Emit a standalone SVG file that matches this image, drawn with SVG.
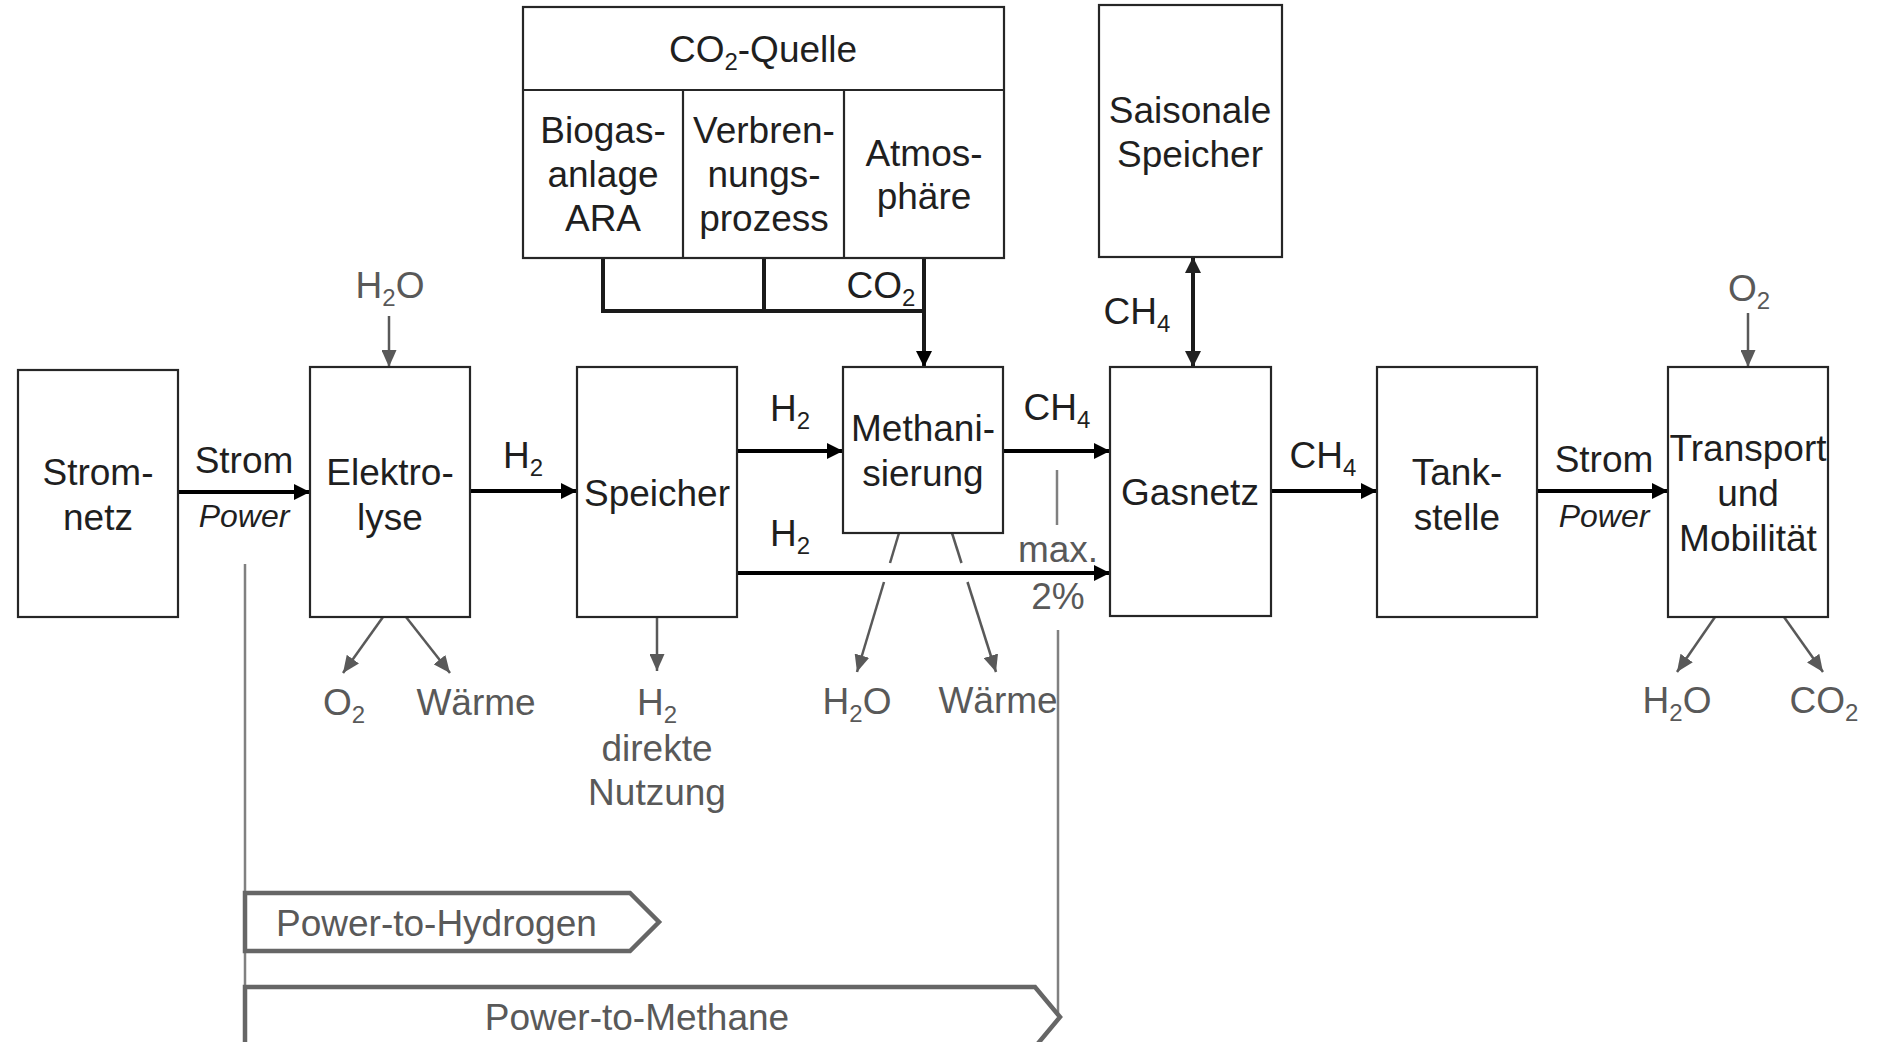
<svg xmlns="http://www.w3.org/2000/svg" width="1882" height="1042" viewBox="0 0 1882 1042">
<style>
text{font-family:"Liberation Sans",Arial,sans-serif;font-size:37px;fill:#1f1f1f}
.g{fill:#595959}
.it{font-style:italic;font-size:32px}
.m{text-anchor:middle}
.sub{font-size:24px}
.box{fill:#fff;stroke:#262626;stroke-width:2.2}
.bl{stroke:#000;stroke-width:4;fill:none}
.tr{stroke:#1a1a1a;stroke-width:4;fill:none}
.gl{stroke:#595959;stroke-width:2.5;fill:none}
.gv{stroke:#808080;stroke-width:2.5;fill:none}
.bar{fill:#fff;stroke:#666;stroke-width:4.5}
</style>
<defs>
<marker id="ab" markerUnits="userSpaceOnUse" markerWidth="16" markerHeight="17" viewBox="0 0 16 17" refX="16" refY="8.5" orient="auto-start-reverse"><path d="M0,0.5 L16,8.5 L0,16.5 z" fill="#000"/></marker>
<marker id="ad" markerUnits="userSpaceOnUse" markerWidth="16" markerHeight="17" viewBox="0 0 16 17" refX="16" refY="8.5" orient="auto-start-reverse"><path d="M0,0.5 L16,8.5 L0,16.5 z" fill="#222"/></marker>
<marker id="ag" markerUnits="userSpaceOnUse" markerWidth="17" markerHeight="15" viewBox="0 0 17 15" refX="17" refY="7.5" orient="auto"><path d="M0,0 L17,7.5 L0,15 z" fill="#595959"/></marker>
</defs>

<g id="connectors">
<line class="bl" x1="178" y1="492" x2="310" y2="492" marker-end="url(#ab)"/>
<line class="bl" x1="470" y1="491" x2="577" y2="491" marker-end="url(#ab)"/>
<line class="bl" x1="737" y1="451" x2="843" y2="451" marker-end="url(#ab)"/>
<line class="bl" x1="737" y1="573" x2="1110" y2="573" marker-end="url(#ab)"/>
<line class="bl" x1="1003" y1="451" x2="1110" y2="451" marker-end="url(#ab)"/>
<line class="bl" x1="1271" y1="491" x2="1377" y2="491" marker-end="url(#ab)"/>
<line class="bl" x1="1537" y1="491" x2="1668" y2="491" marker-end="url(#ab)"/>
<line class="tr" x1="1193" y1="257" x2="1193" y2="367" marker-start="url(#ad)" marker-end="url(#ad)"/>
<polyline class="tr" points="603,258 603,311 924,311"/>
<line class="tr" x1="764" y1="258" x2="764" y2="311"/>
<line class="tr" x1="924" y1="258" x2="924" y2="367" marker-end="url(#ab)"/>
<line class="gl" x1="389" y1="316" x2="389" y2="367" marker-end="url(#ag)"/>
<line class="gl" x1="383" y1="617" x2="343" y2="673" marker-end="url(#ag)"/>
<line class="gl" x1="406" y1="617" x2="450" y2="673" marker-end="url(#ag)"/>
<line class="gl" x1="657" y1="617" x2="657" y2="671" marker-end="url(#ag)"/>
<line class="gl" x1="899" y1="533" x2="890" y2="563"/>
<line class="gl" x1="884" y1="582" x2="857" y2="672" marker-end="url(#ag)"/>
<line class="gl" x1="952" y1="533" x2="961.5" y2="563"/>
<line class="gl" x1="967.5" y1="582" x2="996" y2="672" marker-end="url(#ag)"/>
<line class="gl" x1="1748" y1="313" x2="1748" y2="367" marker-end="url(#ag)"/>
<line class="gl" x1="1715" y1="617" x2="1677" y2="672" marker-end="url(#ag)"/>
<line class="gl" x1="1784" y1="617" x2="1823" y2="672" marker-end="url(#ag)"/>
<line class="gv" x1="245" y1="564" x2="245" y2="1042"/>
<line class="gv" x1="1057" y1="470" x2="1057" y2="525"/>
<line class="gv" x1="1058" y1="630" x2="1058" y2="1017"/>
</g>

<g id="labels">
<text class="m" x="244" y="473">Strom</text>
<text class="m it" x="244" y="527">Power</text>
<text class="m" x="523" y="468">H<tspan class="sub" dy="8">2</tspan></text>
<text class="m" x="790" y="421">H<tspan class="sub" dy="8">2</tspan></text>
<text class="m" x="790" y="546">H<tspan class="sub" dy="8">2</tspan></text>
<text class="m" x="1057" y="420">CH<tspan class="sub" dy="8">4</tspan></text>
<text class="m" x="1323" y="468">CH<tspan class="sub" dy="8">4</tspan></text>
<text class="m" x="1137" y="324">CH<tspan class="sub" dy="8">4</tspan></text>
<text class="m" x="881" y="298">CO<tspan class="sub" dy="8">2</tspan></text>
<text class="m" x="1604" y="472">Strom</text>
<text class="m it" x="1604" y="527">Power</text>
<text class="m g" x="1058" y="562">max.</text>
<text class="m g" x="1058" y="609">2%</text>
<text class="m g" x="390" y="298">H<tspan class="sub" dy="8">2</tspan><tspan dy="-8">O</tspan></text>
<text class="m g" x="344" y="715">O<tspan class="sub" dy="8">2</tspan></text>
<text class="m g" x="476" y="715">Wärme</text>
<text class="m g" x="657" y="715">H<tspan class="sub" dy="8">2</tspan></text>
<text class="m g" x="657" y="761">direkte</text>
<text class="m g" x="657" y="805">Nutzung</text>
<text class="m g" x="857" y="714">H<tspan class="sub" dy="8">2</tspan><tspan dy="-8">O</tspan></text>
<text class="m g" x="998" y="713">Wärme</text>
<text class="m g" x="1749" y="301">O<tspan class="sub" dy="8">2</tspan></text>
<text class="m g" x="1677" y="713">H<tspan class="sub" dy="8">2</tspan><tspan dy="-8">O</tspan></text>
<text class="m g" x="1824" y="713">CO<tspan class="sub" dy="8">2</tspan></text>
</g>

<g id="stromnetz">
<rect class="box" x="18" y="370" width="160" height="247"/>
<text class="m" x="98" y="485">Strom-</text>
<text class="m" x="98" y="530">netz</text>
</g>
<g id="elektrolyse">
<rect class="box" x="310" y="367" width="160" height="250"/>
<text class="m" x="390" y="485">Elektro-</text>
<text class="m" x="390" y="530">lyse</text>
</g>
<g id="speicher">
<rect class="box" x="577" y="367" width="160" height="250"/>
<text class="m" x="657" y="506">Speicher</text>
</g>
<g id="methanisierung">
<rect class="box" x="843" y="367" width="160" height="166"/>
<text class="m" x="923" y="441">Methani-</text>
<text class="m" x="923" y="486">sierung</text>
</g>
<g id="co2-quelle">
<rect class="box" x="523" y="7" width="481" height="251"/>
<line class="box" x1="523" y1="90" x2="1004" y2="90"/>
<line class="box" x1="683" y1="90" x2="683" y2="258"/>
<line class="box" x1="844" y1="90" x2="844" y2="258"/>
<text class="m" x="763" y="62">CO<tspan class="sub" dy="8">2</tspan><tspan dy="-8">-Quelle</tspan></text>
<text class="m" x="603" y="143">Biogas-</text>
<text class="m" x="603" y="187">anlage</text>
<text class="m" x="603" y="231">ARA</text>
<text class="m" x="764" y="143">Verbren-</text>
<text class="m" x="764" y="187">nungs-</text>
<text class="m" x="764" y="231">prozess</text>
<text class="m" x="924" y="166">Atmos-</text>
<text class="m" x="924" y="209">phäre</text>
</g>
<g id="saisonale-speicher">
<rect class="box" x="1099" y="5" width="183" height="252"/>
<text class="m" x="1190" y="123">Saisonale</text>
<text class="m" x="1190" y="167">Speicher</text>
</g>
<g id="gasnetz">
<rect class="box" x="1110" y="367" width="161" height="249"/>
<text class="m" x="1190" y="505">Gasnetz</text>
</g>
<g id="tankstelle">
<rect class="box" x="1377" y="367" width="160" height="250"/>
<text class="m" x="1457" y="485">Tank-</text>
<text class="m" x="1457" y="530">stelle</text>
</g>
<g id="transport">
<rect class="box" x="1668" y="367" width="160" height="250"/>
<text class="m" x="1748" y="461">Transport</text>
<text class="m" x="1748" y="506">und</text>
<text class="m" x="1748" y="551">Mobilität</text>
</g>
<g id="power-to-hydrogen">
<polygon class="bar" points="245,893 630,893 659,922 630,951 245,951"/>
<text class="g" x="276" y="936">Power-to-Hydrogen</text>
</g>
<g id="power-to-methane">
<polygon class="bar" points="245,987 1035,987 1060,1017 1035,1047 245,1047"/>
<text class="m g" x="637" y="1030">Power-to-Methane</text>
</g>
</svg>
